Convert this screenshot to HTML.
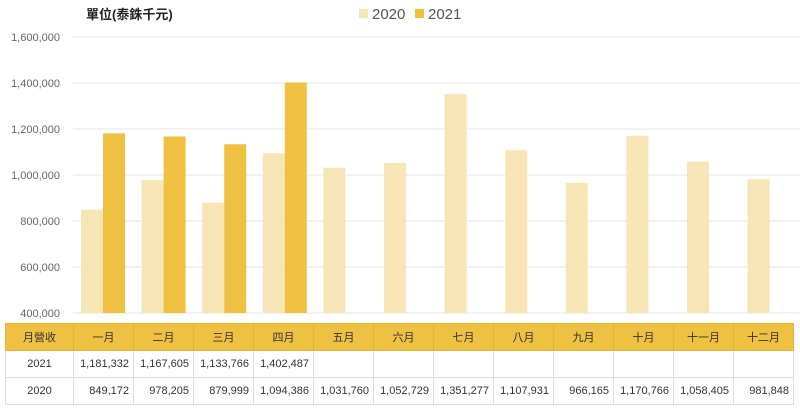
<!DOCTYPE html>
<html><head><meta charset="utf-8"><style>
body{margin:0;width:800px;height:408px;background:#fff;font-family:"Liberation Sans","Noto Sans CJK TC",sans-serif;position:relative;overflow:hidden}
svg{position:absolute;left:0;top:0}
table{position:absolute;left:5px;top:323px;border-collapse:collapse;font-size:11px;color:#333}
td{border:1px solid #ddd;height:26px;padding:0 4px;text-align:right;width:51px}
td:first-child{text-align:center;width:59px}
tr.h td{background:#efc143;text-align:center;border-color:#e2b43a}
</style></head><body>
<svg width="800" height="320">
<text x="86" y="19" font-size="13" font-weight="bold" fill="#222">單位(泰銖千元)</text>
<g>
<rect x="359" y="9" width="9" height="9" fill="#f8e5b5"/>
<text x="372" y="19" font-size="15" fill="#555">2020</text>
<rect x="415" y="9" width="9" height="9" fill="#efc143"/>
<text x="428" y="19" font-size="15" fill="#555">2021</text>
</g>
<g id="grid"></g><g id="bars"></g>
</svg>
<table id="tbl"></table>
<script>
const months=["一月","二月","三月","四月","五月","六月","七月","八月","九月","十月","十一月","十二月"];
const s2021=[1181332,1167605,1133766,1402487];
const s2020=[849172,978205,879999,1094386,1031760,1052729,1351277,1107931,966165,1170766,1058405,981848];
const ticks=[400000,600000,800000,1000000,1200000,1400000,1600000];
const NS="http://www.w3.org/2000/svg";
const y=v=>313-(v-400000)/200000*46;
const gx=i=>73+i*60.6;
const grid=document.getElementById('grid'),bars=document.getElementById('bars');
ticks.forEach(t=>{
 const l=document.createElementNS(NS,'line');
 
 
 l.setAttribute('x1',73);l.setAttribute('x2',800);l.setAttribute('y1',y(t));l.setAttribute('y2',y(t));
 l.setAttribute('stroke','#e6e6e6');grid.appendChild(l);
 const tx=document.createElementNS(NS,'text');
 
 
 tx.setAttribute('x',60);tx.setAttribute('y',y(t)+4);tx.setAttribute('text-anchor','end');
 tx.setAttribute('font-size','11');tx.setAttribute('fill','#666');
 tx.textContent=t.toLocaleString('en-US');grid.appendChild(tx);
});
function bar(x,v,c,n){const r=document.createElementNS(NS,'rect');
 
 
 r.setAttribute('x',x);r.setAttribute('width',22);r.setAttribute('y',y(v));r.setAttribute('height',313-y(v));r.setAttribute('fill',c);bars.appendChild(r);}
s2020.forEach((v,i)=>bar(gx(i)+8,v,'#f8e5b5','bar-2020'));
s2021.forEach((v,i)=>bar(gx(i)+30,v,'#efc143','bar-2021'));
const f=v=>v==null?'':v.toLocaleString('en-US');
let h='<tr class="h"><td>月營收</td>'+months.map(m=>'<td>'+m+'</td>').join('')+'</tr>';
h+='<tr><td>2021</td>'+months.map((m,i)=>'<td>'+f(s2021[i])+'</td>').join('')+'</tr>';
h+='<tr><td>2020</td>'+months.map((m,i)=>'<td>'+f(s2020[i])+'</td>').join('')+'</tr>';
document.getElementById('tbl').innerHTML=h;
</script>
</body></html>
